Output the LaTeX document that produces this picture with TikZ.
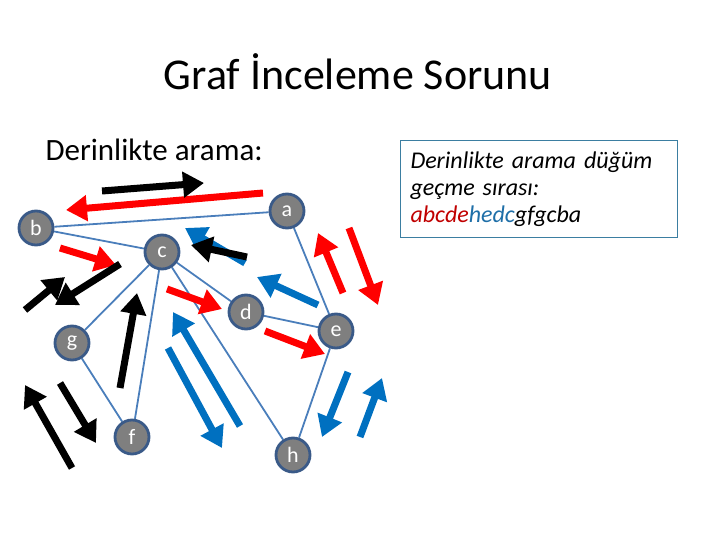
\documentclass[tikz,border=0pt]{standalone}
\usepackage{fontspec}
\setmainfont{Carlito}
\usetikzlibrary{arrows.meta,backgrounds}
\definecolor{nodegray}{HTML}{7F7F7F}
\definecolor{nodeedge}{HTML}{3A5A88}
\definecolor{linkblue}{HTML}{4A7EBB}
\definecolor{walkred}{HTML}{FF0000}
\definecolor{walkblue}{HTML}{0070C0}
\definecolor{txtred}{HTML}{C00000}
\definecolor{txtblue}{HTML}{1F6FA8}
\definecolor{boxblue}{HTML}{3B7EA1}
\tikzset{
  vertex/.style={
    circle, draw=nodeedge, fill=nodegray, line width=2.8pt,
    minimum size=34pt, inner sep=0pt, text=white,
    font=\fontsize{22}{22}\selectfont
  },
  link/.style={draw=linkblue, line width=1.8pt},
  walk/.style={
    -{Triangle[length=21pt,width=25pt]}, line width=7pt, color=#1
  },
  walk/.default=black,
  orderbox/.style={
    rectangle, draw=boxblue, line width=1pt, anchor=north west,
    minimum width=277pt, minimum height=97pt, align=left,
    text width=257pt, inner xsep=10pt, inner ysep=5pt,
    font=\fontsize{24}{27}\selectfont\itshape
  },
}

\begin{document}
\begin{tikzpicture}[x=1pt, y=-1pt]
  \useasboundingbox (0,0) rectangle (720,540);

  % Titles
  \node[font=\fontsize{44}{44}\selectfont] (title) at (358,72) {Graf İnceleme Sorunu};
  \node[font=\fontsize{31}{31}\selectfont, anchor=west] (sub) at (42,150) {Derinlikte arama:};

  % Order box
  \node[orderbox] (order) at (400,140) {Derinlikte arama düğüm\\geçme sırası:\\
    \textcolor{txtred}{abcde}\textcolor{txtblue}{hedc}gfgcba};

  % Vertices
  \foreach \name/\x/\y in {a/287/211, b/36/228, c/162/252, d/246/312,
                           e/336/331, g/72/343, f/132/437, h/293/455} {
    \node[vertex] (\name) at (\x,\y) {\name};
  }

  % Edges
  \begin{scope}[on background layer]
    \foreach \u/\v in {a/b, b/c, a/e, c/d, c/g, c/f, c/h, d/e, e/h, g/f}
      \draw[link] (\u) -- (\v);
  \end{scope}

  % Walk arrows
  \foreach \xa/\ya/\xb/\yb in {263/193/66/210, 60/248/116/265, 167/289/222/309,
                               265/331/325/354, 343/293/318/233, 349/228/378/305}
    \draw[walk=walkred] (\xa,\ya) -- (\xb,\yb);
  \foreach \xa/\ya/\xb/\yb in {245/263/185/228, 318/305/257/277, 348/372/322/437,
                               360/437/382/378, 168/348/222/448, 240/426/173/312}
    \draw[walk=walkblue] (\xa,\ya) -- (\xb,\yb);
  \foreach \xa/\ya/\xb/\yb in {102/191/204/183, 247/257/191/245, 120/264/55/305,
                               25/310/65/277, 120/388/137/293, 60/383/96/443,
                               72/468/25/385}
    \draw[walk] (\xa,\ya) -- (\xb,\yb);
\end{tikzpicture}
\end{document}
